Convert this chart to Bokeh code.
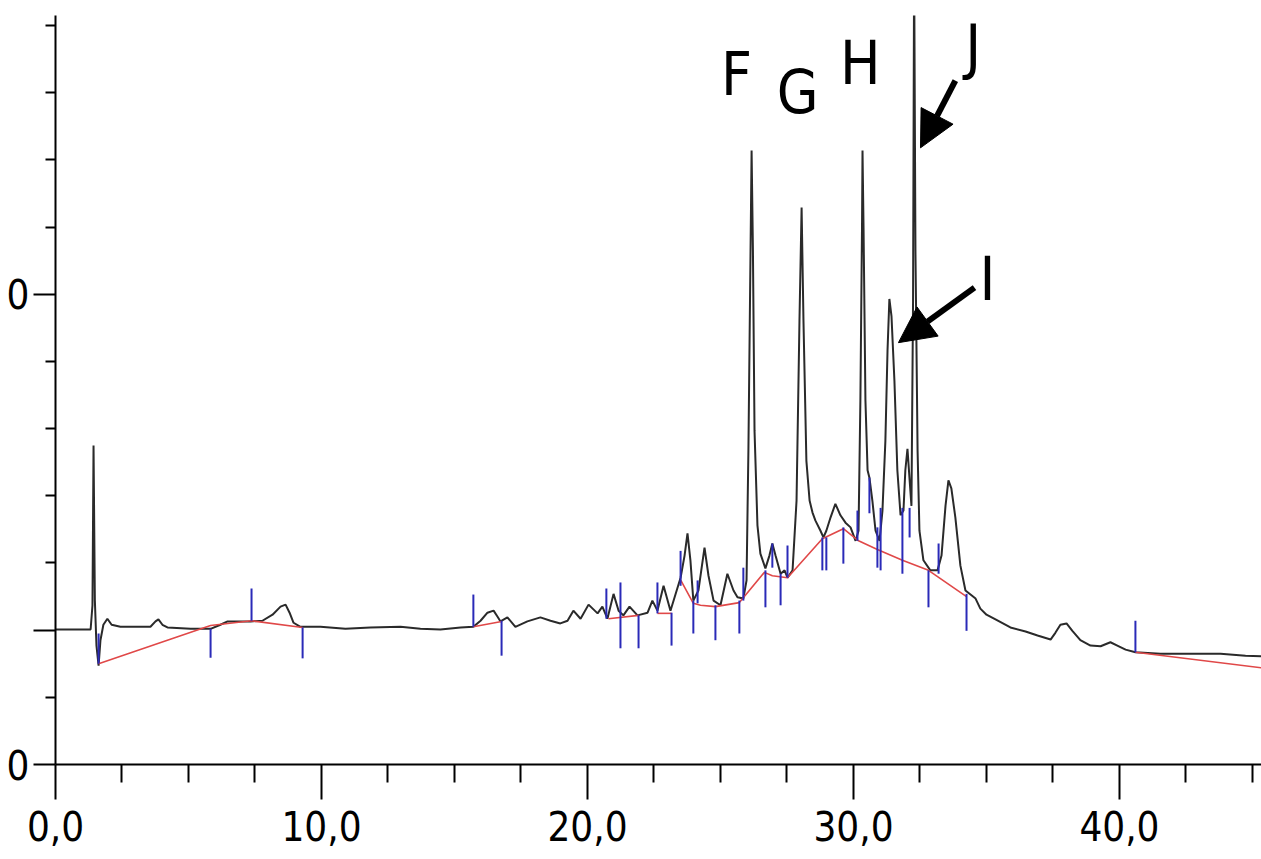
from bokeh.plotting import figure
from bokeh.models import FixedTicker, Range1d, Arrow, NormalHead, ColumnDataSource
from bokeh.core.properties import value
from bokeh.embed import file_html
from bokeh.resources import INLINE

# ---- chromatogram trace (time in min, signal in axis units) ----
time = [0.00, 1.32, 1.39, 1.43, 1.48, 1.54, 1.62, 1.69, 1.80, 1.95, 2.11, 2.44, 3.57, 3.76, 3.87,
        4.02, 4.21, 5.08, 5.83, 6.20, 6.47, 7.33, 7.78, 8.16, 8.46, 8.65, 8.80, 8.95, 9.21, 9.96,
        10.90, 11.84, 12.97, 13.72, 14.47, 15.23, 15.71, 15.98, 16.24, 16.47, 16.62, 16.73, 16.99,
        17.29, 17.74, 18.23, 18.61, 18.98, 19.25, 19.47, 19.74, 20.04, 20.38, 20.56, 20.75, 20.98,
        21.17, 21.35, 21.58, 21.88, 22.26, 22.44, 22.63, 22.86, 23.12, 23.50, 23.65, 23.76, 23.87,
        23.98, 24.17, 24.40, 24.55, 24.74, 25.00, 25.26, 25.49, 25.64, 25.86, 25.98, 26.05, 26.13,
        26.17, 26.22, 26.28, 26.39, 26.50, 26.69, 26.84, 26.95, 27.07, 27.26, 27.41, 27.52, 27.71,
        27.86, 27.97, 28.05, 28.12, 28.23, 28.35, 28.46, 28.57, 28.76, 28.87, 28.98, 29.14, 29.32,
        29.51, 29.70, 29.89, 30.08, 30.19, 30.26, 30.32, 30.34, 30.38, 30.45, 30.53, 30.60, 30.71,
        30.83, 30.98, 31.09, 31.20, 31.28, 31.35, 31.43, 31.54, 31.65, 31.77, 31.88, 31.95, 32.03,
        32.11, 32.18, 32.24, 32.28, 32.33, 32.41, 32.48, 32.63, 32.89, 33.16, 33.31, 33.46, 33.57,
        33.68, 33.83, 34.02, 34.21, 34.40, 34.59, 34.77, 35.00, 35.34, 35.90, 36.47, 36.92, 37.41,
        37.59, 37.78, 38.01, 38.23, 38.53, 38.91, 39.29, 39.66, 39.92, 40.23, 40.60, 41.54, 42.67,
        43.80, 44.74, 45.34]
signal = [2.01, 2.01, 2.37, 4.75, 2.44, 1.77, 1.47, 1.85, 2.08, 2.17, 2.08, 2.05, 2.05, 2.13, 2.16,
          2.08, 2.04, 2.02, 2.02, 2.08, 2.13, 2.13, 2.14, 2.23, 2.35, 2.38, 2.26, 2.11, 2.05, 2.05,
          2.02, 2.04, 2.05, 2.02, 2.01, 2.04, 2.05, 2.14, 2.26, 2.29, 2.20, 2.13, 2.19,
          2.05, 2.13, 2.19, 2.14, 2.10, 2.14, 2.29, 2.17, 2.38, 2.25, 2.35, 2.17, 2.54,
          2.29, 2.22, 2.35, 2.22, 2.26, 2.44, 2.29, 2.66, 2.29, 2.78, 3.11, 3.44, 3.04,
          2.44, 2.59, 3.23, 2.81, 2.44, 2.37, 2.84, 2.59, 2.49, 2.47, 2.74, 4.67, 7.65,
          9.14, 7.65, 4.97, 3.56, 3.14, 2.92, 3.11, 3.29, 3.11, 2.84, 2.89, 2.78, 2.89,
          3.93, 6.61, 8.29, 6.61, 4.52, 3.93, 3.75, 3.63, 3.48, 3.38, 3.48, 3.68, 3.88,
          3.71, 3.60, 3.53, 3.33, 3.48, 5.42, 7.95, 9.14, 7.95, 5.42, 4.38, 4.27, 3.93,
          3.48, 3.33, 3.78, 4.82, 6.16, 6.93, 6.67, 5.71, 4.38, 3.71, 3.78, 4.38, 4.70,
          4.24, 3.85, 6.90, 11.96, 7.65, 4.67, 3.48, 3.04, 2.89, 2.89, 3.11, 3.85, 4.23,
          4.11, 3.68, 2.96, 2.59, 2.53, 2.47, 2.32, 2.23, 2.16, 2.04, 1.98, 1.92, 1.86,
          1.96, 2.08, 2.10, 1.99, 1.85, 1.77, 1.76, 1.82, 1.77, 1.71, 1.67, 1.65, 1.65,
          1.65, 1.62, 1.61]

# ---- integration baselines (red) ----
base_t = [[1.62, 5.83, 7.37, 9.29],
          [15.71, 16.77],
          [20.79, 21.92],
          [22.63, 23.16],
          [23.50, 23.98, 24.25, 24.81, 25.71, 26.65, 26.95, 27.52, 28.83, 29.62, 30.19, 30.90,
           31.84, 32.82, 34.25],
          [40.60, 45.34]]
base_y = [[1.50, 2.07, 2.14, 2.04],
          [2.05, 2.13],
          [2.17, 2.22],
          [2.25, 2.25],
          [2.75, 2.40, 2.37, 2.35, 2.41, 2.86, 2.81, 2.78, 3.36, 3.51, 3.33, 3.20,
           3.04, 2.89, 2.50],
          [1.67, 1.44]]

# ---- peak start/end markers (blue) ----
mark_t = [1.62, 5.83, 7.37, 9.29, 15.71, 16.77, 20.71, 21.24, 21.92, 22.63, 23.16, 23.50, 23.98,
          24.14, 24.81, 25.71, 25.86, 26.69, 26.95, 27.26, 27.52, 28.83, 28.98, 29.62, 30.15,
          30.60, 30.90, 31.02, 31.84, 32.11, 32.82, 33.20, 34.25, 40.60]
mark_top = [1.95, 2.02, 2.62, 2.04, 2.53, 2.14, 2.62, 2.71, 2.22, 2.71, 2.26, 3.18, 2.44,
            2.74, 2.37, 2.44, 2.93, 2.89, 3.29, 2.84, 3.26, 3.38, 3.38, 3.53, 3.78,
            4.27, 3.53, 3.82, 3.82, 3.82, 2.89, 3.29, 2.54, 2.14]
mark_bot = [1.50, 1.59, 2.14, 1.58, 2.05, 1.62, 2.17, 1.73, 1.73, 2.25, 1.77, 2.66, 1.95,
            2.40, 1.85, 1.95, 2.44, 2.34, 2.93, 2.37, 2.78, 2.89, 2.89, 2.99, 3.33,
            3.74, 2.93, 2.89, 2.84, 3.38, 2.34, 2.84, 1.99, 1.67]

# ---- peak labels and arrows ----
label_text = ["F", "G", "H", "I", "J"]
label_t = [25.60, 27.90, 30.26, 35.04, 34.50]
label_y = [10.28, 10.01, 10.45, 7.23, 10.70]
arrow_t0 = [33.83, 34.55]
arrow_y0 = [10.18, 7.10]
arrow_t1 = [32.52, 31.69]
arrow_y1 = [9.18, 6.28]

# ---- axis ticks ----
x_major = [0, 10, 20, 30, 40]
x_labels = ["0,0", "10,0", "20,0", "30,0", "40,0"]
x_minor = [2.5, 5, 7.5, 12.5, 15, 17.5, 22.5, 25, 27.5, 32.5, 35, 37.5, 42.5, 45]
y_major = [0, 2, 7]
y_labels = ["0", "", "0"]
y_minor = [1, 3, 4, 5, 6, 8, 9, 10, 11]

FONT = "DejaVu Sans Condensed, Liberation Sans, sans-serif"

p = figure(width=1261, height=859, x_range=Range1d(0, 45.34), y_range=Range1d(0, 11.15),
           output_backend="svg", toolbar_location=None,
           min_border_left=55, min_border_right=0, min_border_top=15, min_border_bottom=95)
p.background_fill_color = "white"
p.border_fill_color = "white"
p.outline_line_color = None
p.xgrid.visible = False
p.ygrid.visible = False

p.xaxis.ticker = FixedTicker(ticks=x_major, minor_ticks=x_minor)
p.xaxis.major_label_overrides = {v: s for v, s in zip(x_major, x_labels)}
p.yaxis.ticker = FixedTicker(ticks=y_major, minor_ticks=y_minor)
p.yaxis.major_label_overrides = {v: s for v, s in zip(y_major, y_labels)}

for ax in (p.xaxis, p.yaxis):
    ax.axis_line_color = "black"
    ax.axis_line_width = 2
    ax.major_tick_line_color = "black"
    ax.major_tick_line_width = 2
    ax.minor_tick_line_color = "black"
    ax.minor_tick_line_width = 2
    ax.major_tick_in = 0
    ax.minor_tick_in = 0
    ax.major_label_text_font = FONT
    ax.major_label_text_color = "black"

p.xaxis.major_label_text_font_size = "40px"
p.yaxis.major_label_text_font_size = "40px"
p.xaxis.major_tick_out = 35
p.xaxis.minor_tick_out = 18
p.xaxis.major_label_standoff = 11
p.yaxis.major_tick_out = 22
p.yaxis.minor_tick_out = 10
p.yaxis.major_label_standoff = 4

src = ColumnDataSource(dict(t=time, s=signal))
p.line("t", "s", source=src, line_color="#2a2a2a", line_width=2)

p.multi_line(xs=base_t, ys=base_y, line_color="#e04848", line_width=1.6)

p.segment(x0=mark_t, y0=mark_top, x1=mark_t, y1=mark_bot, line_color="#2a2ab8", line_width=2)

p.text(x=label_t, y=label_y, text=label_text, text_font=value(FONT), text_font_size="60px",
       text_align="center", text_baseline="middle", text_color="black")

for xs, ys, xe, ye in zip(arrow_t0, arrow_y0, arrow_t1, arrow_y1):
    p.add_layout(Arrow(end=NormalHead(size=36, fill_color="black", line_color="black"),
                       x_start=xs, y_start=ys, x_end=xe, y_end=ye,
                       line_color="black", line_width=6))

open("out.html", "w").write(file_html(p, INLINE))
